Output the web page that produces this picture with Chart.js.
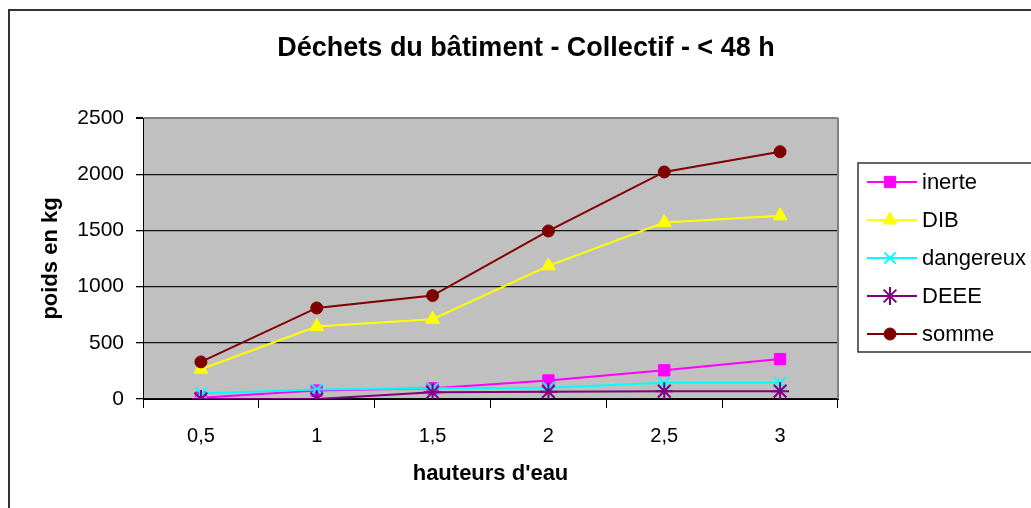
<!DOCTYPE html>
<html>
<head>
<meta charset="utf-8">
<script src="https://cdn.jsdelivr.net/npm/chart.js@4.4.0/dist/chart.umd.min.js"></script>
<style>
  html, body { margin: 0; padding: 0; background: #fff; overflow: hidden; }
  #wrap { width: 1031px; height: 508px; }
</style>
</head>
<body>
<div id="wrap"><canvas id="chart" width="1031" height="508"></canvas></div>
<script>
const hauteurs = ['0,5', '1', '1,5', '2', '2,5', '3'];
const yTicks = [0, 500, 1000, 1500, 2000, 2500];

const inerte = [12, 75, 95, 165, 255, 355];
const dib = [265, 645, 710, 1185, 1570, 1630];
const dangereux = [50, 85, 95, 100, 145, 145];
const deee = [0, 0, 60, 65, 70, 70];
const somme = [330, 810, 920, 1495, 2020, 2200];

const FONT = "'Liberation Sans', Arial, sans-serif";

function serie(label, data, color, style, radius, order) {
    return {
        label: label,
        data: data,
        borderColor: color,
        backgroundColor: color,
        borderWidth: 2,
        pointStyle: style,
        pointRadius: radius,
        pointBorderWidth: style === 'crossRot' || style === 'star' ? 2 : 1,
        pointBorderColor: color,
        pointBackgroundColor: color,
        tension: 0,
        fill: false,
        order: order
    };
}

// fond blanc, cadre, zone grise et légende maison
const decor = {
    id: 'decor',
    beforeDraw(chart) {
        const {ctx, chartArea: a} = chart;
        ctx.save();
        ctx.fillStyle = '#fff';
        ctx.fillRect(0, 0, chart.width, chart.height);
        ctx.strokeStyle = '#333';
        ctx.lineWidth = 2;
        ctx.beginPath();
        ctx.moveTo(9, chart.height + 5);
        ctx.lineTo(9, 10);
        ctx.lineTo(chart.width + 5, 10);
        ctx.stroke();
        ctx.fillStyle = '#c0c0c0';
        ctx.fillRect(a.left, a.top, a.right - a.left, a.bottom - a.top);
        ctx.restore();
    },
    beforeDatasetsDraw(chart) {
        const {ctx, chartArea: a} = chart;
        ctx.save();
        ctx.strokeStyle = '#808080';
        ctx.lineWidth = 2;
        ctx.beginPath();
        ctx.moveTo(a.right, a.top);
        ctx.lineTo(a.right, a.bottom);
        ctx.stroke();
        ctx.restore();
    },
    afterDraw(chart) {
        const ctx = chart.ctx;
        ctx.save();
        // titre
        ctx.fillStyle = '#000';
        ctx.font = 'bold 27px ' + FONT;
        ctx.textAlign = 'center';
        ctx.textBaseline = 'middle';
        ctx.fillText('Déchets du bâtiment - Collectif - < 48 h', 526, 49);

        // légende (le cadre sort à droite)
        ctx.strokeStyle = '#333';
        ctx.lineWidth = 1.5;
        ctx.beginPath();
        ctx.moveTo(chart.width + 5, 163);
        ctx.lineTo(858, 163);
        ctx.lineTo(858, 352);
        ctx.lineTo(chart.width + 5, 352);
        ctx.stroke();
        ctx.font = '22px ' + FONT;
        ctx.textAlign = 'left';
        chart.data.datasets.forEach((ds, i) => {
            const y = 182 + i * 38;
            ctx.strokeStyle = ds.borderColor;
            ctx.lineWidth = 2;
            ctx.beginPath();
            ctx.moveTo(867, y);
            ctx.lineTo(917, y);
            ctx.stroke();
            ctx.fillStyle = ds.pointBackgroundColor;
            ctx.strokeStyle = ds.pointBorderColor;
            ctx.lineWidth = ds.pointBorderWidth;
            Chart.helpers.drawPoint(ctx, {
                pointStyle: ds.pointStyle,
                radius: ds.pointRadius,
                borderWidth: ds.pointBorderWidth,
                rotation: 0
            }, 890, y);
            ctx.fillStyle = '#000';
            ctx.fillText(ds.label, 922, y + 1);
        });
        ctx.restore();
    }
};

new Chart(document.getElementById('chart'), {
    type: 'line',
    data: {
        labels: hauteurs,
        datasets: [
            serie('inerte', inerte, '#ff00ff', 'rect', 8, 5),
            serie('DIB', dib, '#ffff00', 'triangle', 8, 4),
            serie('dangereux', dangereux, '#00ffff', 'crossRot', 8, 3),
            serie('DEEE', deee, '#800080', 'star', 9, 2),
            serie('somme', somme, '#800000', 'circle', 6, 1)
        ]
    },
    options: {
        responsive: false,
        animation: false,
        layout: { padding: { top: 118, left: 20, right: 193, bottom: 0 } },
        plugins: {
            legend: { display: false },
            title: { display: false },
            tooltip: { enabled: false }
        },
        scales: {
            x: {
                offset: true,
                afterFit(scale) { scale.height = 109; },
                grid: {
                    offset: true,
                    drawOnChartArea: false,
                    drawTicks: true,
                    tickLength: 9,
                    tickColor: '#000',
                    color: '#000'
                },
                border: { color: '#000', width: 1 },
                ticks: {
                    color: '#000',
                    padding: 16,
                    font: { family: FONT, size: 20 },
                    maxRotation: 0
                },
                title: {
                    display: true,
                    text: "hauteurs d'eau",
                    color: '#000',
                    font: { family: FONT, size: 22, weight: 'bold' },
                    padding: { top: 4, bottom: 21 }
                }
            },
            y: {
                min: 0,
                max: 2500,
                afterFit(scale) { scale.width = 123; },
                afterBuildTicks(scale) {
                    scale.ticks = yTicks.map(v => ({ value: v }));
                },
                grid: {
                    color: ctx => ctx.tick && ctx.tick.value === 2500 ? '#808080' : '#111',
                    lineWidth: ctx => ctx.tick && ctx.tick.value === 2500 ? 2 : 1.3,
                    drawTicks: true,
                    tickLength: 7,
                    tickColor: '#000'
                },
                border: { color: '#000', width: 1 },
                ticks: {
                    color: '#000',
                    padding: 12,
                    font: { family: FONT, size: 21 },
                    callback: v => String(v)
                },
                title: {
                    display: true,
                    text: 'poids en kg',
                    color: '#000',
                    font: { family: FONT, size: 22, weight: 'bold' },
                    padding: { top: 18, bottom: 0 }
                }
            }
        }
    },
    plugins: [decor]
});
</script>
</body>
</html>
